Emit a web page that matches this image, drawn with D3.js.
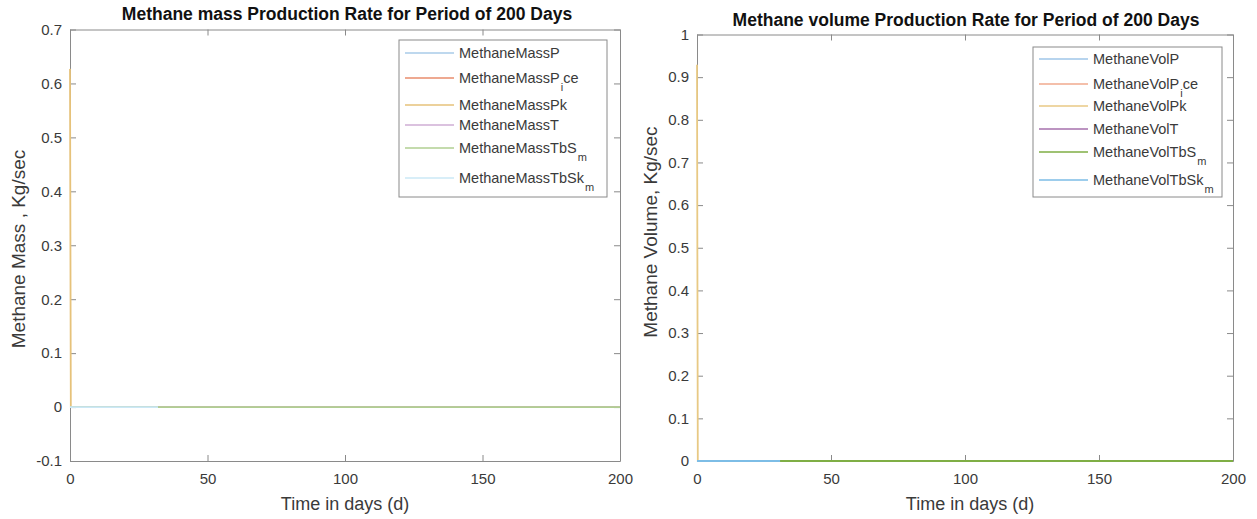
<!DOCTYPE html>
<meta charset="utf-8">
<style>
body { margin: 0; background: #fff; }
text { font-family: "Liberation Sans", Arial, sans-serif; }
.axis path, .axis line { stroke: #8a8a8a; }
.axis text { fill: #3a3a3a; font-size: 15px; }
</style>
<body>
<script src="https://d3js.org/d3.v7.min.js"></script>
<script>

// time axis ticks (days)
var dayTicks = [0, 50, 100, 150, 200];

// left panel: methane mass rate, Kg/sec
var massTicks = [-0.1, 0, 0.1, 0.2, 0.3, 0.4, 0.5, 0.6, 0.7];
var massNames = [["MethaneMassP"], ["MethaneMassP", "i", "ce"], ["MethaneMassPk"],
                 ["MethaneMassT"], ["MethaneMassTbS", "m", ""], ["MethaneMassTbSk", "m", ""]];
var massColors = ["#a8cbe8", "#e98d6d", "#e6c27a", "#cfaed4", "#b0cf92", "#cbe8f6"];
var massP     = [[0, 0], [200, 0]];
var massPice  = [[0, 0], [200, 0]];
var massPk    = [[0, 0.627], [0.3, 0], [200, 0]];
var massT     = [[0, 0], [200, 0]];
var massTbSm  = [[0, 0], [200, 0]];
var massTbSkm = [[0, 0], [32, 0]];

// right panel: methane volume rate
var volTicks = [0, 0.1, 0.2, 0.3, 0.4, 0.5, 0.6, 0.7, 0.8, 0.9, 1];
var volNames = [["MethaneVolP"], ["MethaneVolP", "i", "ce"], ["MethaneVolPk"],
                ["MethaneVolT"], ["MethaneVolTbS", "m", ""], ["MethaneVolTbSk", "m", ""]];
var volColors = ["#9fc6e8", "#f0aa8e", "#e8c984", "#a670ad", "#7fae45", "#7dbde6"];
var volP     = [[0, 0], [31, 0]];
var volPice  = [[0, 0], [200, 0]];
var volPk    = [[0, 0.929], [0.3, 0], [200, 0]];
var volT     = [[0, 0], [200, 0]];
var volTbSm  = [[0, 0], [200, 0]];
var volTbSkm = [[0, 0], [31, 0]];

var svg = d3.select("body").append("svg")
    .attr("width", 1257)
    .attr("height", 519);

var fmt = function(d) { return String(+d.toFixed(2)); };

function panel(cfg) {
  var x = d3.scaleLinear().domain([0, 200]).range([cfg.left, cfg.right]);
  var y = d3.scaleLinear().domain(cfg.yDomain).range([cfg.bottom, cfg.top]);
  var g = svg.append("g");

  // axes, ticks pointing inward, box on
  g.append("g").attr("class", "axis")
      .attr("transform", "translate(0," + cfg.bottom + ")")
      .call(d3.axisBottom(x).tickValues(dayTicks).tickSizeInner(-6).tickSizeOuter(0).tickPadding(12).tickFormat(fmt));
  g.append("g").attr("class", "axis")
      .attr("transform", "translate(0," + cfg.top + ")")
      .call(d3.axisTop(x).tickValues(dayTicks).tickSizeInner(-6).tickSizeOuter(0).tickFormat(""));
  g.append("g").attr("class", "axis")
      .attr("transform", "translate(" + cfg.left + ",0)")
      .call(d3.axisLeft(y).tickValues(cfg.yTicks).tickSizeInner(-6).tickSizeOuter(0).tickPadding(8).tickFormat(fmt));
  g.append("g").attr("class", "axis")
      .attr("transform", "translate(" + cfg.right + ",0)")
      .call(d3.axisRight(y).tickValues(cfg.yTicks).tickSizeInner(-6).tickSizeOuter(0).tickFormat(""));

  // series, drawn in plot order over the axes
  var line = d3.line().x(function(d) { return x(d[0]); }).y(function(d) { return y(d[1]); });
  cfg.series.forEach(function(s, i) {
    g.append("path")
      .datum(s)
      .attr("fill", "none")
      .attr("stroke", cfg.colors[i])
      .attr("stroke-width", 1.8)
      .attr("d", line);
  });

  // title and labels
  svg.append("text")
      .attr("x", cfg.titleX).attr("y", cfg.titleY)
      .attr("text-anchor", "middle")
      .style("font-size", "17.5px").style("font-weight", "bold").attr("fill", "#111")
      .text(cfg.title);
  svg.append("text")
      .attr("x", cfg.xLabelX).attr("y", 510)
      .attr("text-anchor", "middle")
      .style("font-size", "18px").attr("fill", "#3a3a3a")
      .text("Time in days (d)");
  svg.append("text")
      .attr("transform", "translate(" + cfg.yLabelX + "," + cfg.yLabelY + ") rotate(-90)")
      .attr("text-anchor", "middle")
      .style("font-size", "19px").attr("fill", "#3a3a3a")
      .text(cfg.yLabel);

  // legend
  var L = cfg.legend;
  svg.append("rect")
      .attr("x", L.x).attr("y", L.y).attr("width", L.w).attr("height", L.h)
      .attr("fill", "#fff").attr("stroke", "#8a8a8a").attr("stroke-width", 1);
  cfg.names.forEach(function(n, i) {
    var ry = L.rows[i];
    svg.append("line")
        .attr("x1", L.x + 6).attr("x2", L.x + 55)
        .attr("y1", ry).attr("y2", ry)
        .attr("stroke", cfg.colors[i]).attr("stroke-width", 1.6);
    var t = svg.append("text")
        .attr("x", L.x + 60).attr("y", ry + 5)
        .style("font-size", "14.5px").attr("fill", "#3a3a3a");
    t.append("tspan").text(n[0]);
    if (n.length > 1) {
      t.append("tspan").attr("dy", 8).attr("dx", 1).style("font-size", "11px").text(n[1]);
      if (n[2]) t.append("tspan").attr("dy", -8).text(n[2]);
    }
  });
}

panel({
  left: 70, right: 620, top: 29.5, bottom: 461,
  yDomain: [-0.1, 0.7], yTicks: massTicks,
  series: [massP, massPice, massPk, massT, massTbSm, massTbSkm],
  colors: massColors, names: massNames,
  title: "Methane mass Production Rate for Period of 200 Days", titleX: 347, titleY: 20,
  xLabelX: 345, yLabel: "Methane Mass , Kg/sec", yLabelX: 25, yLabelY: 249,
  legend: { x: 399, y: 40, w: 208, h: 157, rows: [53, 78, 105, 125, 148, 178] }
});

panel({
  left: 697, right: 1233, top: 34.5, bottom: 461,
  yDomain: [0, 1], yTicks: volTicks,
  series: [volP, volPice, volPk, volT, volTbSm, volTbSkm],
  colors: volColors, names: volNames,
  title: "Methane volume Production Rate for Period of 200 Days", titleX: 966, titleY: 26,
  xLabelX: 970, yLabel: "Methane Volume, Kg/sec", yLabelX: 657, yLabelY: 232,
  legend: { x: 1033, y: 47, w: 189, h: 150, rows: [59, 84, 106, 129, 152, 180] }
});

</script>
</body>
